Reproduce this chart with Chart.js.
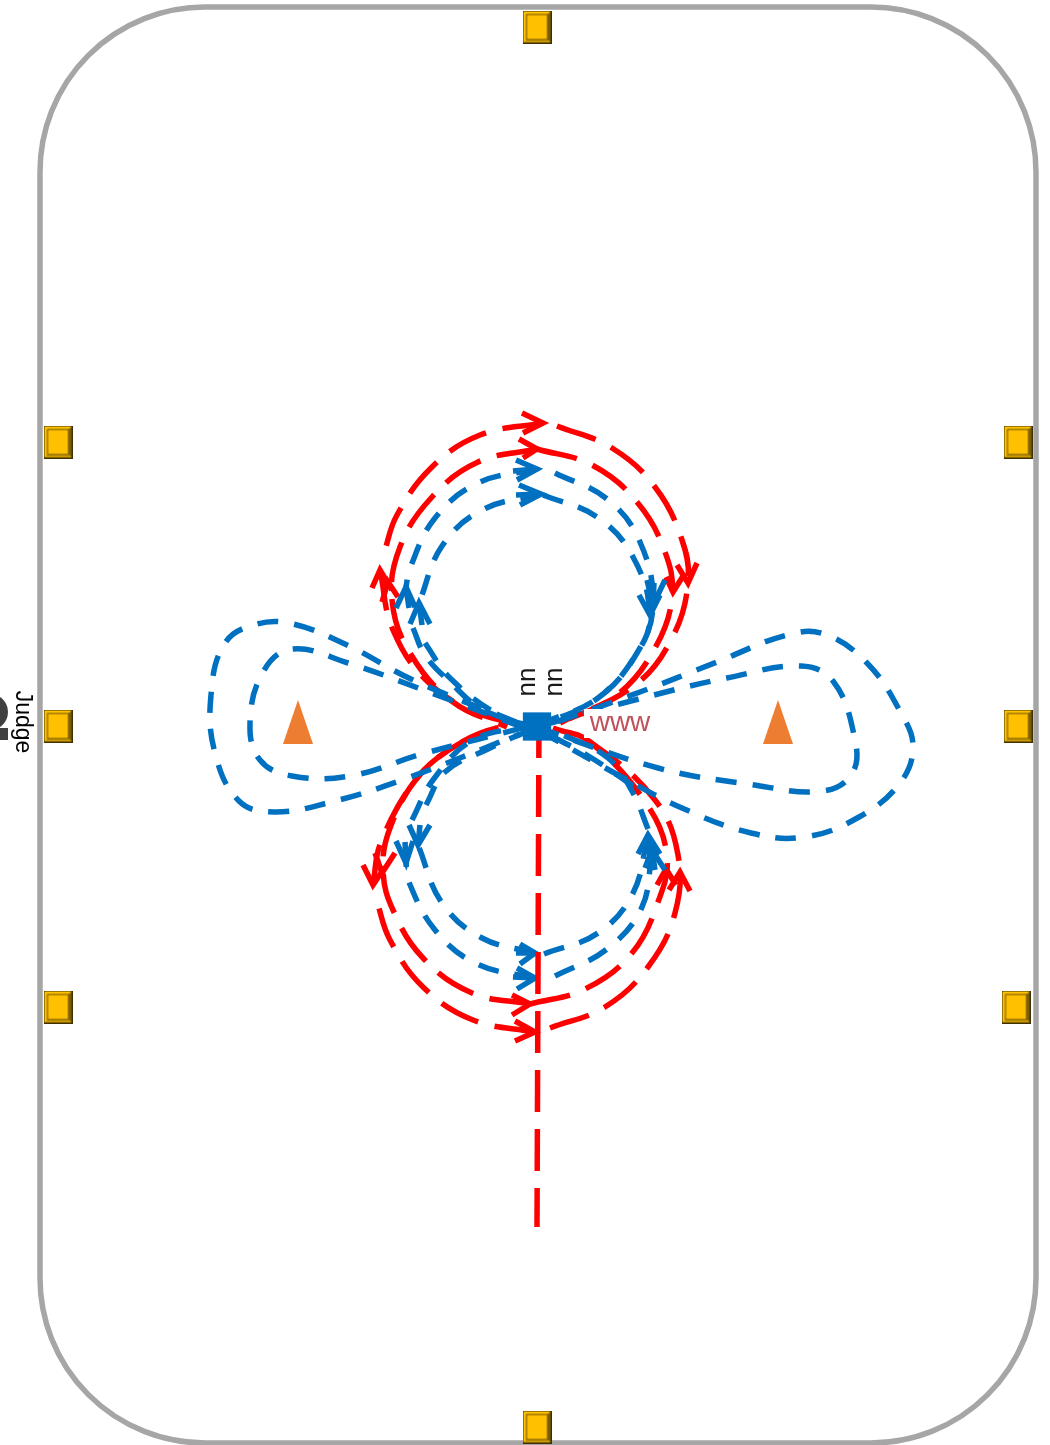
<!DOCTYPE html>
<html>
<head>
<meta charset="utf-8">
<title>Pattern</title>
<script src="https://cdn.jsdelivr.net/npm/chart.js@4/dist/chart.umd.min.js"></script>
<style>
  html, body { margin: 0; padding: 0; background: #fff; overflow: hidden; }
  canvas { display: block; }
</style>
</head>
<body>
<canvas id="patternChart" width="1050" height="1445"></canvas>
<script>
// red loops, every path starts where a dash starts
var redOuterTopLeft = [[543,423],[480,435],[432,467],[397,515],[384,553]];
var redOuterTopLow = [[380,570],[393,630],[428,682],[480,714],[537,726]];
var redOuterTopRight = [[557,426],[612,448],[655,487],[682,540],[688,583],[672,638],[635,685],[560,723]];
var redInnerTopLeft = [[537,449],[478,462],[432,497],[400,547],[392,600],[410,653],[453,702],[507,727]];
var redInnerTopRight = [[537,449],[592,465],[637,502],[665,552],[672,597],[655,648],[617,695],[560,723]];
var redOuterBottomLeft = [[373,885],[381,842],[418,777],[457,745],[497,728],[537,726]];
var redOuterBottomLow = [[535,1032],[473,1020],[423,987],[390,940],[377,902]];
var redInnerBottomLeft = [[530,1004],[472,993],[423,958],[393,910],[383,870],[390,828],[418,777],[457,745],[497,728]];
var redInnerBottomRight = [[530,1004],[585,989],[632,953],[658,902],[667,857],[648,806],[590,742],[553,728]];
var redOuterBottomRight = [[550,1028],[605,1007],[648,967],[675,913],[678,855],[655,800],[590,742],[553,728]];
var redCentreLine = [[539,716],[537,1227]];

// blue loops
var blueOuterTopLeft = [[537,469],[478,483],[435,518],[410,568],[406,587]];
var blueOuterTopLow = [[413,628],[425,655],[450,682],[480,708],[520,724]];
var blueOuterTopRight = [[555,473],[607,499],[640,542],[653,605],[637,653],[598,698],[540,724]];
var blueInnerTopLeft = [[541,494],[482,510],[442,546],[419,603]];
var blueInnerTopLow = [[425,643],[450,678],[500,716],[530,726]];
var blueInnerTopRight = [[543,495],[597,517],[633,557],[650,615],[637,653],[598,698],[540,726]];
var blueOuterBottomLeft = [[535,978],[477,964],[435,930],[408,880],[406,863]];
var blueOuterBottomLow = [[412,820],[433,780],[473,740],[530,726]];
var blueOuterBottomRight = [[555,976],[607,949],[642,907],[652,850]];
var blueInnerBottomLeft = [[535,953],[482,938],[442,903],[418,845]];
var blueInnerBottomLow = [[426,805],[445,772],[488,749],[530,730]];
var blueInnerBottomRight = [[544,954],[598,933],[633,893],[648,835]];
var blueBottomRightUp = [[648,829],[633,793],[608,758],[563,735],[540,727]];
var blueBottomRightUp2 = [[633,786],[590,757],[540,730]];

// side loops
var blueLeftOuter = [[516,722],[413,680],[347,645],[293,624],[257,624],[225,643],[211,695],[215,753],[239,801],[274,812],[331,802],[402,780],[520,734]];
var blueLeftInner = [[522,727],[418,688],[348,663],[292,649],[263,672],[250,723],[260,760],[292,776],[350,776],[422,754],[530,726]];
var blueRightOuter = [[523,734],[640,692],[717,662],[787,635],[824,634],[867,663],[901,713],[913,747],[900,783],[859,817],[805,837],[751,833],[682,808],[620,776],[545,734]];
var blueRightInner = [[547,724],[654,695],[727,678],[801,666],[833,681],[854,735],[853,772],[823,791],[748,784],[658,768],[545,730]];

// arrow heads: wing, tip, wing
var redArrows = [
  [[522,413],[543,423],[523,433]], [[519,439],[537,449],[523,458]],
  [[677,565],[688,583],[697,563]], [[666,577],[673,592],[685,573]],
  [[372,588],[380,570],[392,590]], [[382,602],[388,582],[398,597]],
  [[512,995],[530,1004],[512,1015]], [[515,1021],[535,1032],[515,1041]],
  [[363,865],[373,885],[385,867]], [[375,853],[382,873],[395,853]],
  [[669,890],[680,872],[690,891]], [[657,885],[666,869],[676,885]]
];
var blueArrows = [
  [[516,460],[537,469],[517,480]], [[519,485],[541,494],[520,505]],
  [[665,580],[653,605],[647,580]], [[639,595],[650,615],[660,595]],
  [[396,608],[406,587],[415,607]], [[410,624],[419,603],[430,624]],
  [[520,944],[535,953],[520,964]], [[517,968],[535,978],[517,989]],
  [[396,841],[406,863],[413,841]], [[409,825],[418,845],[430,825]],
  [[638,854],[648,835],[660,854]], [[645,868],[652,850],[665,870]]
];
var arrowShafts = [
  [[513,471],[537,469]], [[516,495],[541,494]], [[516,953],[535,953]], [[513,977],[535,978]],
  [[406,587],[409,608]], [[419,603],[422,625]], [[406,863],[405,842]], [[418,845],[420,825]],
  [[653,605],[654,583]], [[650,615],[648,595]], [[648,835],[650,857]], [[652,850],[655,870]]
];

var redPaths = [redOuterTopLeft, redOuterTopLow, redOuterTopRight, redInnerTopLeft, redInnerTopRight, redOuterBottomLeft, redOuterBottomLow, redInnerBottomLeft, redInnerBottomRight, redOuterBottomRight];
var bluePaths = [blueOuterTopLeft, blueOuterTopLow, blueOuterTopRight, blueInnerTopLeft, blueInnerTopLow, blueInnerTopRight, blueOuterBottomLeft, blueOuterBottomLow, blueOuterBottomRight, blueInnerBottomLeft, blueInnerBottomLow, blueInnerBottomRight, blueBottomRightUp, blueBottomRightUp2, blueLeftOuter, blueLeftInner, blueRightOuter, blueRightInner];

// things standing on the floor
var markerPoints = [[537,27],[58,442],[1018,442],[58,726],[1018,726],[58,1007],[1016,1007],[537,1427]];
var conePoints = [[298,722],[778,722]];
var centrePoint = [[537,726.5]];
var judgeHead = [[-10,712]];
var judgeBody = [[0,734],[8,734]];

var arenaBox = [40, 7, 1036, 1443];
var arenaRadius = 165;
var labelTexts = ["nn", "nn", "www", "Judge"];
var labelPoints = [[528,682],[555,682],[620,723],[22,722]];

var RED = "#FF0000";
var BLUE = "#0070C0";

function toXY(list) {
  return list.map(function(p) { return {x: p[0], y: p[1]}; });
}

function makeMarker() {
  var c = document.createElement("canvas");
  c.width = 29; c.height = 33;
  var g = c.getContext("2d");
  g.fillStyle = "#FFC000";
  g.fillRect(0.5, 0.5, 28, 32);
  g.fillStyle = "#7F6000";
  g.beginPath(); g.moveTo(28.5, 0.5); g.lineTo(28.5, 32.5); g.lineTo(25, 29); g.lineTo(25, 4); g.fill();
  g.fillStyle = "#CC9A00";
  g.beginPath(); g.moveTo(0.5, 32.5); g.lineTo(28.5, 32.5); g.lineTo(25, 29); g.lineTo(4, 29); g.fill();
  g.strokeStyle = "#3F3000";
  g.lineWidth = 1;
  g.strokeRect(0.5, 0.5, 28, 32);
  g.strokeStyle = "#6B5200";
  g.strokeRect(4, 4, 21, 25);
  return c;
}

function makeCone() {
  var c = document.createElement("canvas");
  c.width = 30; c.height = 44;
  var g = c.getContext("2d");
  g.fillStyle = "#ED7D31";
  g.beginPath(); g.moveTo(15, 0); g.lineTo(30, 44); g.lineTo(0, 44); g.closePath(); g.fill();
  return c;
}

function lineSet(list, colour, dash, order) {
  return {
    data: toXY(list), showLine: true, pointRadius: 0, borderColor: colour, borderWidth: 5.5,
    borderDash: dash, tension: 0.4, fill: false, order: order
  };
}

var datasets = [];
redPaths.forEach(function(p) { datasets.push(lineSet(p, RED, [41, 17], 60)); });
redArrows.forEach(function(p) { var d = lineSet(p, RED, [], 55); d.tension = 0; datasets.push(d); });
bluePaths.forEach(function(p) { datasets.push(lineSet(p, BLUE, [21, 16], 40)); });
blueArrows.concat(arrowShafts).forEach(function(p) { var d = lineSet(p, BLUE, [], 35); d.tension = 0; datasets.push(d); });
datasets.push(lineSet(redCentreLine, RED, [42, 17], 20));
datasets[datasets.length - 1].tension = 0;
datasets.push({ data: toXY(centrePoint), pointStyle: "rect", pointRadius: 20, backgroundColor: BLUE, borderColor: BLUE, borderWidth: 0, order: 10 });
datasets.push({ data: toXY(markerPoints), pointStyle: makeMarker(), order: 10 });
datasets.push({ data: toXY(conePoints), pointStyle: makeCone(), order: 10 });
datasets.push({ data: toXY(judgeHead), pointStyle: "circle", pointRadius: 18, backgroundColor: "#404040", borderWidth: 0, order: 10 });
datasets.push(lineSet(judgeBody, "#404040", [], 10));
datasets[datasets.length - 1].borderWidth = 12;

var arenaPlugin = {
  id: "arena",
  beforeDatasetsDraw: function(chart) {
    var x = chart.scales.x, y = chart.scales.y, g = chart.ctx;
    var left = x.getPixelForValue(arenaBox[0]), top = y.getPixelForValue(arenaBox[1]);
    var right = x.getPixelForValue(arenaBox[2]), bottom = y.getPixelForValue(arenaBox[3]);
    g.save();
    g.strokeStyle = "#A6A6A6";
    g.lineWidth = 5.5;
    g.beginPath();
    g.roundRect(left, top, right - left, bottom - top, arenaRadius);
    g.stroke();
    g.restore();
  }
};

var labelPlugin = {
  id: "labels",
  afterDatasetsDraw: function(chart) {
    var x = chart.scales.x, y = chart.scales.y, g = chart.ctx;
    var turn = [-Math.PI / 2, -Math.PI / 2, 0, Math.PI / 2];
    var size = [26, 26, 28, 23];
    var colour = ["#1A1A1A", "#1A1A1A", "#C0505A", "#000000"];
    g.save();
    // white box behind the www label hides the lines there
    g.fillStyle = "#fff";
    g.fillRect(x.getPixelForValue(584), y.getPixelForValue(709), 72, 29);
    g.textAlign = "center";
    g.textBaseline = "middle";
    labelTexts.forEach(function(t, i) {
      g.save();
      g.translate(x.getPixelForValue(labelPoints[i][0]), y.getPixelForValue(labelPoints[i][1]));
      g.rotate(turn[i]);
      g.font = size[i] + "px 'Liberation Sans'";
      g.fillStyle = colour[i];
      g.fillText(t, 0, 0);
      g.restore();
    });
    g.restore();
  }
};

var patternChart = new Chart(document.getElementById("patternChart"), {
  type: "scatter",
  data: { datasets: datasets },
  plugins: [arenaPlugin, labelPlugin],
  options: {
    responsive: false,
    animation: false,
    clip: false,
    layout: { padding: 0, autoPadding: false },
    plugins: { legend: { display: false }, tooltip: { enabled: false } },
    scales: {
      x: { type: "linear", min: 0, max: 1050, display: false },
      y: { type: "linear", min: 0, max: 1445, reverse: true, display: false }
    }
  }
});
</script>
</body>
</html>
